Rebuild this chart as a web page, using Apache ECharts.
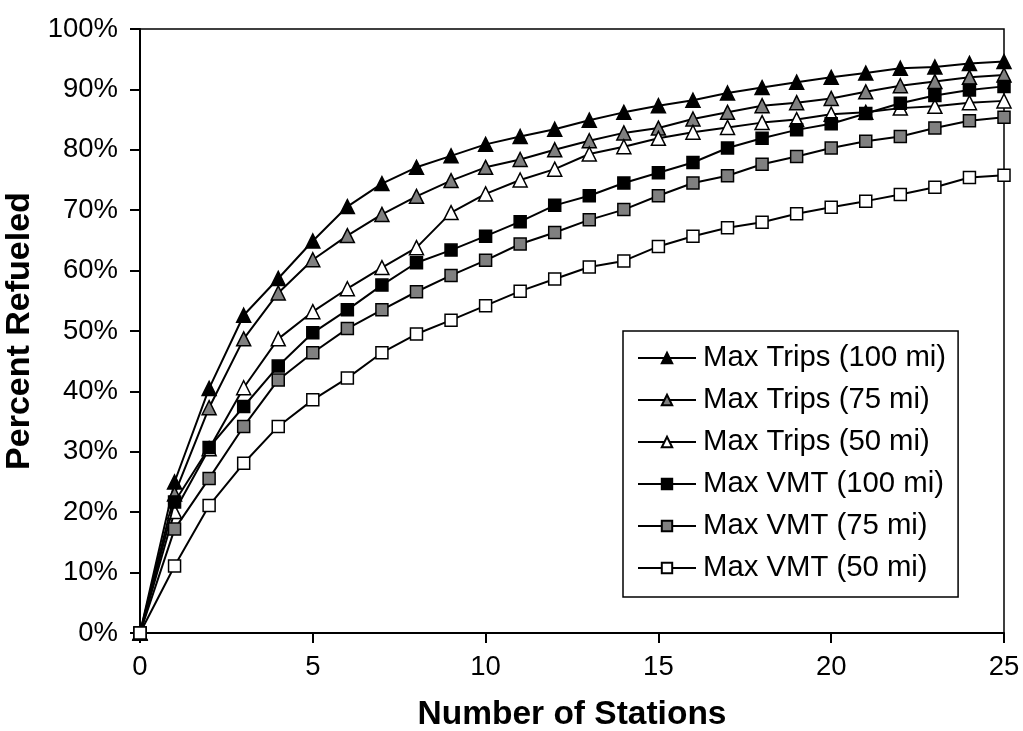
<!DOCTYPE html>
<html>
<head>
<meta charset="utf-8">
<script src="https://cdn.jsdelivr.net/npm/echarts@6/dist/echarts.min.js"></script>
<style>
html,body{margin:0;padding:0;background:#fff;}
#chart{width:1023px;height:731px;}
</style>
</head>
<body>
<div id="chart"></div>
<script>
const stations = [0,1,2,3,4,5,6,7,8,9,10,11,12,13,14,15,16,17,18,19,20,21,22,23,24,25];
const seriesNames = ['Max Trips (100 mi)','Max Trips (75 mi)','Max Trips (50 mi)','Max VMT (100 mi)','Max VMT (75 mi)','Max VMT (50 mi)'];
const trips100 = [0,25.0,40.5,52.6,58.7,64.9,70.6,74.4,77.1,79.0,80.9,82.2,83.4,84.9,86.2,87.3,88.2,89.4,90.3,91.2,92.0,92.7,93.5,93.7,94.3,94.6];
const trips75  = [0,23.0,37.3,48.7,56.3,61.8,65.8,69.3,72.3,74.9,77.1,78.4,80.0,81.5,82.8,83.6,85.1,86.2,87.3,87.8,88.5,89.6,90.6,91.3,92.0,92.4];
const trips50  = [0,20.1,30.5,40.6,48.7,53.2,57.0,60.5,63.8,69.6,72.7,75.0,76.8,79.3,80.5,81.9,82.9,83.7,84.5,85.0,85.9,86.2,86.9,87.2,87.8,88.1];
const vmt100   = [0,21.7,30.7,37.5,44.2,49.7,53.5,57.6,61.3,63.4,65.7,68.1,70.8,72.4,74.5,76.2,77.9,80.3,81.9,83.3,84.3,86.0,87.7,89.0,89.9,90.5];
const vmt75    = [0,17.2,25.6,34.2,41.9,46.4,50.4,53.5,56.5,59.2,61.7,64.4,66.3,68.4,70.1,72.4,74.5,75.7,77.6,78.9,80.3,81.4,82.2,83.6,84.8,85.4];
const vmt50    = [0,11.1,21.1,28.1,34.2,38.6,42.2,46.4,49.5,51.8,54.2,56.6,58.6,60.6,61.6,64.0,65.7,67.1,68.0,69.4,70.5,71.5,72.6,73.8,75.4,75.8];
const xTicks = [0,5,10,15,20,25];
const yTicks = [0,10,20,30,40,50,60,70,80,90,100];

const allValues = [trips100, trips75, trips50, vmt100, vmt75, vmt50];
const symbols = ['triangle','triangle','triangle','rect','rect','rect'];
const fills = ['#000000','#808080','#ffffff','#000000','#808080','#ffffff'];
const sizes = [14,14,14,12,12,12];

const FONT = '"Liberation Sans", Arial, sans-serif';

const chart = echarts.init(document.getElementById('chart'), null, {renderer:'canvas'});
const series = seriesNames.map((name, i) => ({
  name: name,
  type: 'line',
  data: stations.map((s, j) => [s, allValues[i][j]]),
  symbol: symbols[i],
  symbolSize: sizes[i],
  showAllSymbol: true,
  lineStyle: {color:'#000', width:2},
  itemStyle: {color: fills[i], borderColor:'#000', borderWidth:1.5},
  emphasis: {disabled:true},
  animation: false,
  z: 2 + i
}));

chart.setOption({
  animation: false,
  backgroundColor: '#fff',
  textStyle: {fontFamily: FONT, color:'#000'},
  grid: {left:140, right:19, top:29, bottom:98, outerBoundsMode:'none', containLabel:false,
    show:true, borderColor:'#000', borderWidth:1.5, backgroundColor:'transparent'},
  xAxis: {
    type:'value', min:0, max:25, interval:5,
    name:'Number of Stations', nameLocation:'middle', nameGap:65,
    nameTextStyle:{fontSize:33.5, fontWeight:'bold', fontFamily:FONT, color:'#000'},
    axisLine:{show:true, onZero:false, lineStyle:{color:'#000', width:2}},
    axisTick:{show:true, inside:false, length:10, lineStyle:{color:'#000', width:2}},
    axisLabel:{fontSize:27.5, color:'#000', fontFamily:FONT, margin:20,
      customValues: xTicks},
    splitLine:{show:false}
  },
  yAxis: {
    type:'value', min:0, max:100, interval:10,
    name:'Percent Refueled', nameLocation:'middle', nameGap:99, nameRotate:90,
    nameTextStyle:{fontSize:34, fontWeight:'bold', fontFamily:FONT, color:'#000'},
    axisLine:{show:true, lineStyle:{color:'#000', width:2}},
    axisTick:{show:true, inside:false, length:10, lineStyle:{color:'#000', width:2}},
    axisLabel:{fontSize:27.5, color:'#000', fontFamily:FONT, margin:22, formatter:'{value}%'},
    splitLine:{show:false}
  },
  legend: {
    orient:'vertical',
    left:623, top:331,
    data: seriesNames,
    itemWidth:58, itemHeight:13, itemGap:12,
    padding:[12,12,14,14],
    borderColor:'#000', borderWidth:1.5, backgroundColor:'#fff',
    textStyle:{fontSize:29.3, fontFamily:FONT, color:'#000', lineHeight:30, padding:[0,0,0,2]},
    selectedMode:false
  },
  series: series
});
</script>
</body>
</html>
